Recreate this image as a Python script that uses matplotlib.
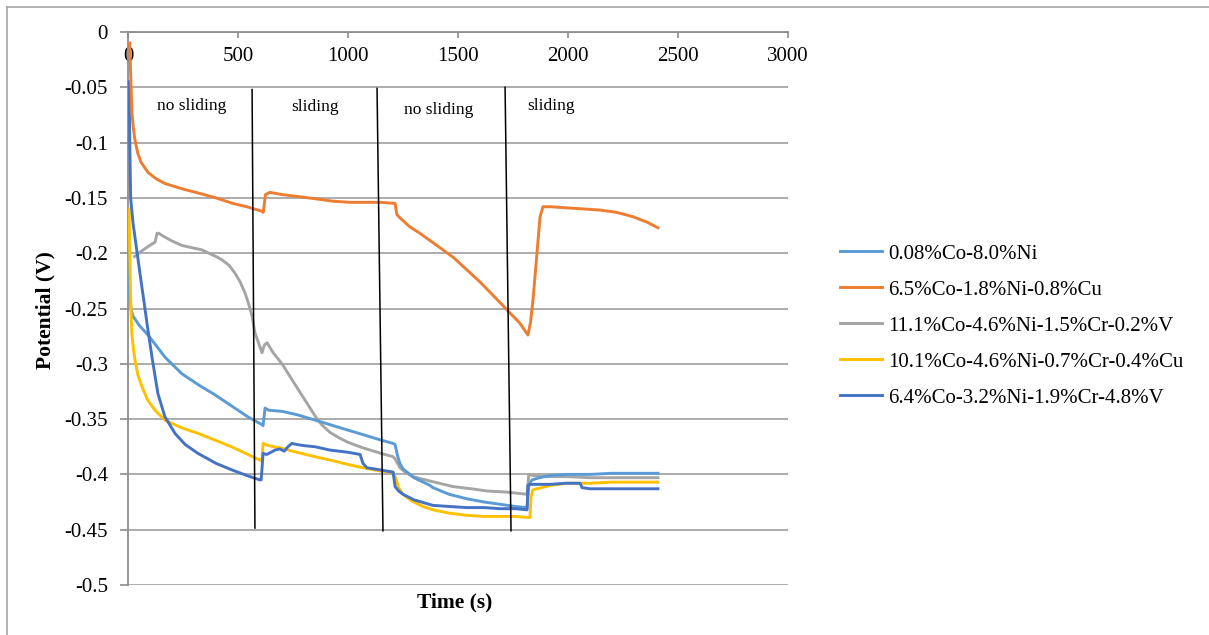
import numpy as np
import matplotlib
matplotlib.use("Agg")
import matplotlib.pyplot as plt
from matplotlib.lines import Line2D

plt.rcParams['font.family'] = ['Liberation Serif', 'DejaVu Serif']

# open circuit potential vs time for the five alloys
t_lb = [2, 8, 15, 23, 50, 91, 130, 168, 245, 320, 395, 470, 545, 609, 614, 623, 640, 700, 768, 818,
        918, 1000, 1068, 1150, 1205, 1214, 1225, 1236, 1250, 1300, 1373, 1386, 1460, 1539, 1620, 1691,
        1760, 1814, 1822, 1836, 1870, 1920, 1995, 2100, 2200, 2300, 2409]
v_lb = [-0.19, -0.24, -0.252, -0.257, -0.265, -0.274, -0.284, -0.294, -0.309, -0.319, -0.328, -0.338,
        -0.348, -0.355, -0.356, -0.340, -0.342, -0.343, -0.346, -0.349, -0.355, -0.360, -0.364, -0.369,
        -0.372, -0.373, -0.383, -0.390, -0.395, -0.403, -0.410, -0.412, -0.418, -0.422, -0.425, -0.427,
        -0.429, -0.430, -0.410, -0.405, -0.403, -0.401, -0.400, -0.400, -0.399, -0.399, -0.399]

t_or = [8, 10, 14, 18, 25, 32, 45, 60, 91, 130, 168, 250, 327, 400, 477, 540, 608, 615, 625, 645,
        700, 782, 860, 932, 1010, 1086, 1150, 1214, 1222, 1236, 1280, 1327, 1418, 1480, 1540, 1600,
        1659, 1736, 1780, 1818, 1830, 1841, 1859, 1873, 1886, 1920, 1995, 2070, 2145, 2220, 2295,
        2360, 2409]
v_or = [-0.010, -0.025, -0.050, -0.073, -0.088, -0.098, -0.110, -0.118, -0.127, -0.133, -0.137,
        -0.142, -0.146, -0.150, -0.155, -0.158, -0.162, -0.163, -0.147, -0.145, -0.147, -0.149,
        -0.151, -0.153, -0.154, -0.154, -0.154, -0.155, -0.165, -0.168, -0.176, -0.182, -0.195,
        -0.204, -0.215, -0.226, -0.238, -0.254, -0.263, -0.274, -0.262, -0.242, -0.200, -0.167,
        -0.158, -0.158, -0.159, -0.160, -0.161, -0.163, -0.167, -0.172, -0.177]

t_gr = [30, 45, 55, 91, 115, 123, 132, 140, 155, 200, 245, 336, 400, 427, 460, 486, 510, 532, 550,
        564, 577, 595, 609, 620, 632, 660, 700, 773, 850, 880, 918, 960, 1000, 1068, 1150, 1205, 1214,
        1236, 1260, 1295, 1373, 1477, 1560, 1632, 1720, 1814, 1822, 1840, 1900, 1995, 2100, 2200,
        2300, 2409]
v_gr = [-0.203, -0.201, -0.199, -0.194, -0.191, -0.190, -0.182, -0.182, -0.184, -0.189, -0.193,
        -0.197, -0.203, -0.206, -0.211, -0.218, -0.226, -0.236, -0.247, -0.257, -0.272, -0.282,
        -0.290, -0.283, -0.281, -0.290, -0.300, -0.323, -0.347, -0.355, -0.362, -0.367, -0.371,
        -0.376, -0.381, -0.384, -0.386, -0.394, -0.398, -0.402, -0.406, -0.411, -0.413, -0.415,
        -0.416, -0.418, -0.400, -0.401, -0.402, -0.402, -0.403, -0.403, -0.403, -0.403]

t_ye = [5, 8, 12, 17, 25, 32, 45, 64, 90, 123, 168, 245, 320, 395, 470, 545, 600, 609, 614, 640,
        691, 768, 850, 918, 1000, 1068, 1150, 1205, 1218, 1230, 1250, 1290, 1340, 1386, 1460, 1539,
        1620, 1691, 1760, 1827, 1832, 1840, 1880, 1918, 1995, 2100, 2200, 2300, 2409]
v_ye = [-0.16, -0.20, -0.24, -0.272, -0.287, -0.297, -0.310, -0.321, -0.333, -0.342, -0.351,
        -0.358, -0.363, -0.369, -0.375, -0.382, -0.387, -0.388, -0.372, -0.374, -0.376, -0.380,
        -0.384, -0.387, -0.391, -0.394, -0.397, -0.398, -0.404, -0.412, -0.418, -0.424, -0.429,
        -0.432, -0.435, -0.437, -0.438, -0.438, -0.438, -0.439, -0.420, -0.414, -0.412, -0.410,
        -0.408, -0.408, -0.407, -0.407, -0.407]

t_db = [5, 8, 12, 23, 41, 62, 77, 86, 109, 136, 168, 214, 260, 318, 400, 473, 540, 600, 605, 609,
        614, 630, 650, 668, 690, 710, 727, 745, 768, 800, 850, 918, 1000, 1055, 1068, 1086, 1150,
        1205, 1214, 1230, 1250, 1300, 1386, 1460, 1539, 1620, 1691, 1760, 1814, 1818, 1830, 1870,
        1918, 1990, 2055, 2064, 2100, 2200, 2300, 2409]
v_db = [-0.045, -0.100, -0.150, -0.173, -0.199, -0.229, -0.250, -0.263, -0.294, -0.327, -0.348,
        -0.363, -0.373, -0.381, -0.390, -0.396, -0.401, -0.405, -0.405, -0.395, -0.381, -0.382,
        -0.380, -0.378, -0.377, -0.379, -0.375, -0.372, -0.373, -0.374, -0.375, -0.378, -0.380,
        -0.382, -0.390, -0.394, -0.396, -0.398, -0.411, -0.415, -0.418, -0.423, -0.428, -0.429,
        -0.430, -0.430, -0.431, -0.431, -0.432, -0.410, -0.409, -0.409, -0.409, -0.408, -0.408,
        -0.412, -0.413, -0.413, -0.413, -0.413]

labels = ['0.08%Co-8.0%Ni', '6.5%Co-1.8%Ni-0.8%Cu', '11.1%Co-4.6%Ni-1.5%Cr-0.2%V',
          '10.1%Co-4.6%Ni-0.7%Cr-0.4%Cu', '6.4%Co-3.2%Ni-1.9%Cr-4.8%V']
colors = ['#5B9BD5', '#ED7D31', '#A5A5A5', '#FFC000', '#4472C4']

# hand drawn separators between the test stages
sep_t_top = [564, 1132, 1714]
sep_t_bot = [577, 1159, 1741]
sep_v_top = [-0.052, -0.051, -0.050]
sep_v_bot = [-0.4485, -0.451, -0.451]
stage_text = ['no sliding', 'sliding', 'no sliding', 'sliding']
stage_t = [291, 850, 1414, 1923]
stage_v = [-0.067, -0.068, -0.0705, -0.067]

fig = plt.figure(figsize=(12.09, 6.35), dpi=100)
ax = fig.add_axes([128/1209, 1-585/635, 660/1209, 553/635])

series = [(t_lb, v_lb), (t_or, v_or), (t_gr, v_gr), (t_ye, v_ye), (t_db, v_db)]
draw_order = [2, 0, 3, 4, 1]
for i in draw_order:
    t, v = series[i]
    ax.plot(t, v, color=colors[i], lw=2.1, solid_joinstyle='round', zorder=3)

for k in range(3):
    ax.plot([sep_t_top[k], sep_t_bot[k]], [sep_v_top[k], sep_v_bot[k]], color='black', lw=1.1, zorder=4)

for s, x, y in zip(stage_text, stage_t, stage_v):
    ax.text(x, y, s, ha='center', va='center', fontsize=12.5, zorder=5)

ax.set_xlim(0, 3000)
ax.set_ylim(-0.5, 0)
ax.set_xticks(np.arange(0, 3001, 500))
ax.set_yticks(np.arange(-0.5, 0.001, 0.05))
ax.set_yticklabels(['-0.5', '-0.45', '-0.4', '-0.35', '-0.3', '-0.25', '-0.2', '-0.15', '-0.1', '-0.05', '0'])
ax.grid(axis='y', color='#A6A6A6', lw=1.3, zorder=1)

# x axis crosses at zero potential, so it sits at the top
ax.spines['bottom'].set_position(('data', 0))
ax.spines['top'].set_visible(False)
ax.spines['right'].set_visible(False)
for sp in ['bottom', 'left']:
    ax.spines[sp].set_color('#8C8C8C')
    ax.spines[sp].set_linewidth(1.3)
ax.tick_params(axis='x', direction='out', length=4.5, width=1.2, color='#8C8C8C', pad=6, labelsize=15)
ax.tick_params(axis='y', direction='out', length=5.5, width=1.2, color='#8C8C8C', pad=9, labelsize=15)

fig.text(45/1209, 1-310/635, 'Potential (V)', rotation=90, ha='center', va='center',
         fontsize=15.5, fontweight='bold')
fig.text(455/1209, 1-602/635, 'Time (s)', ha='center', va='center', fontsize=15.5, fontweight='bold')

handles = [Line2D([], [], color=c, lw=2.1) for c in colors]
fig.legend(handles, labels, loc='upper left', bbox_to_anchor=(840/1209, 1-244/635),
           frameon=False, fontsize=15, handlelength=2.0, handletextpad=0.3,
           labelspacing=0.79, borderpad=0, borderaxespad=0)

# chart area border
fig.add_artist(plt.Line2D([7/1209, 7/1209], [0, 1-7/635], color='#A6A6A6', lw=1.2))
fig.add_artist(plt.Line2D([7/1209, 1], [1-7/635, 1-7/635], color='#A6A6A6', lw=1.2))

fig.savefig('out.png', dpi=100)
